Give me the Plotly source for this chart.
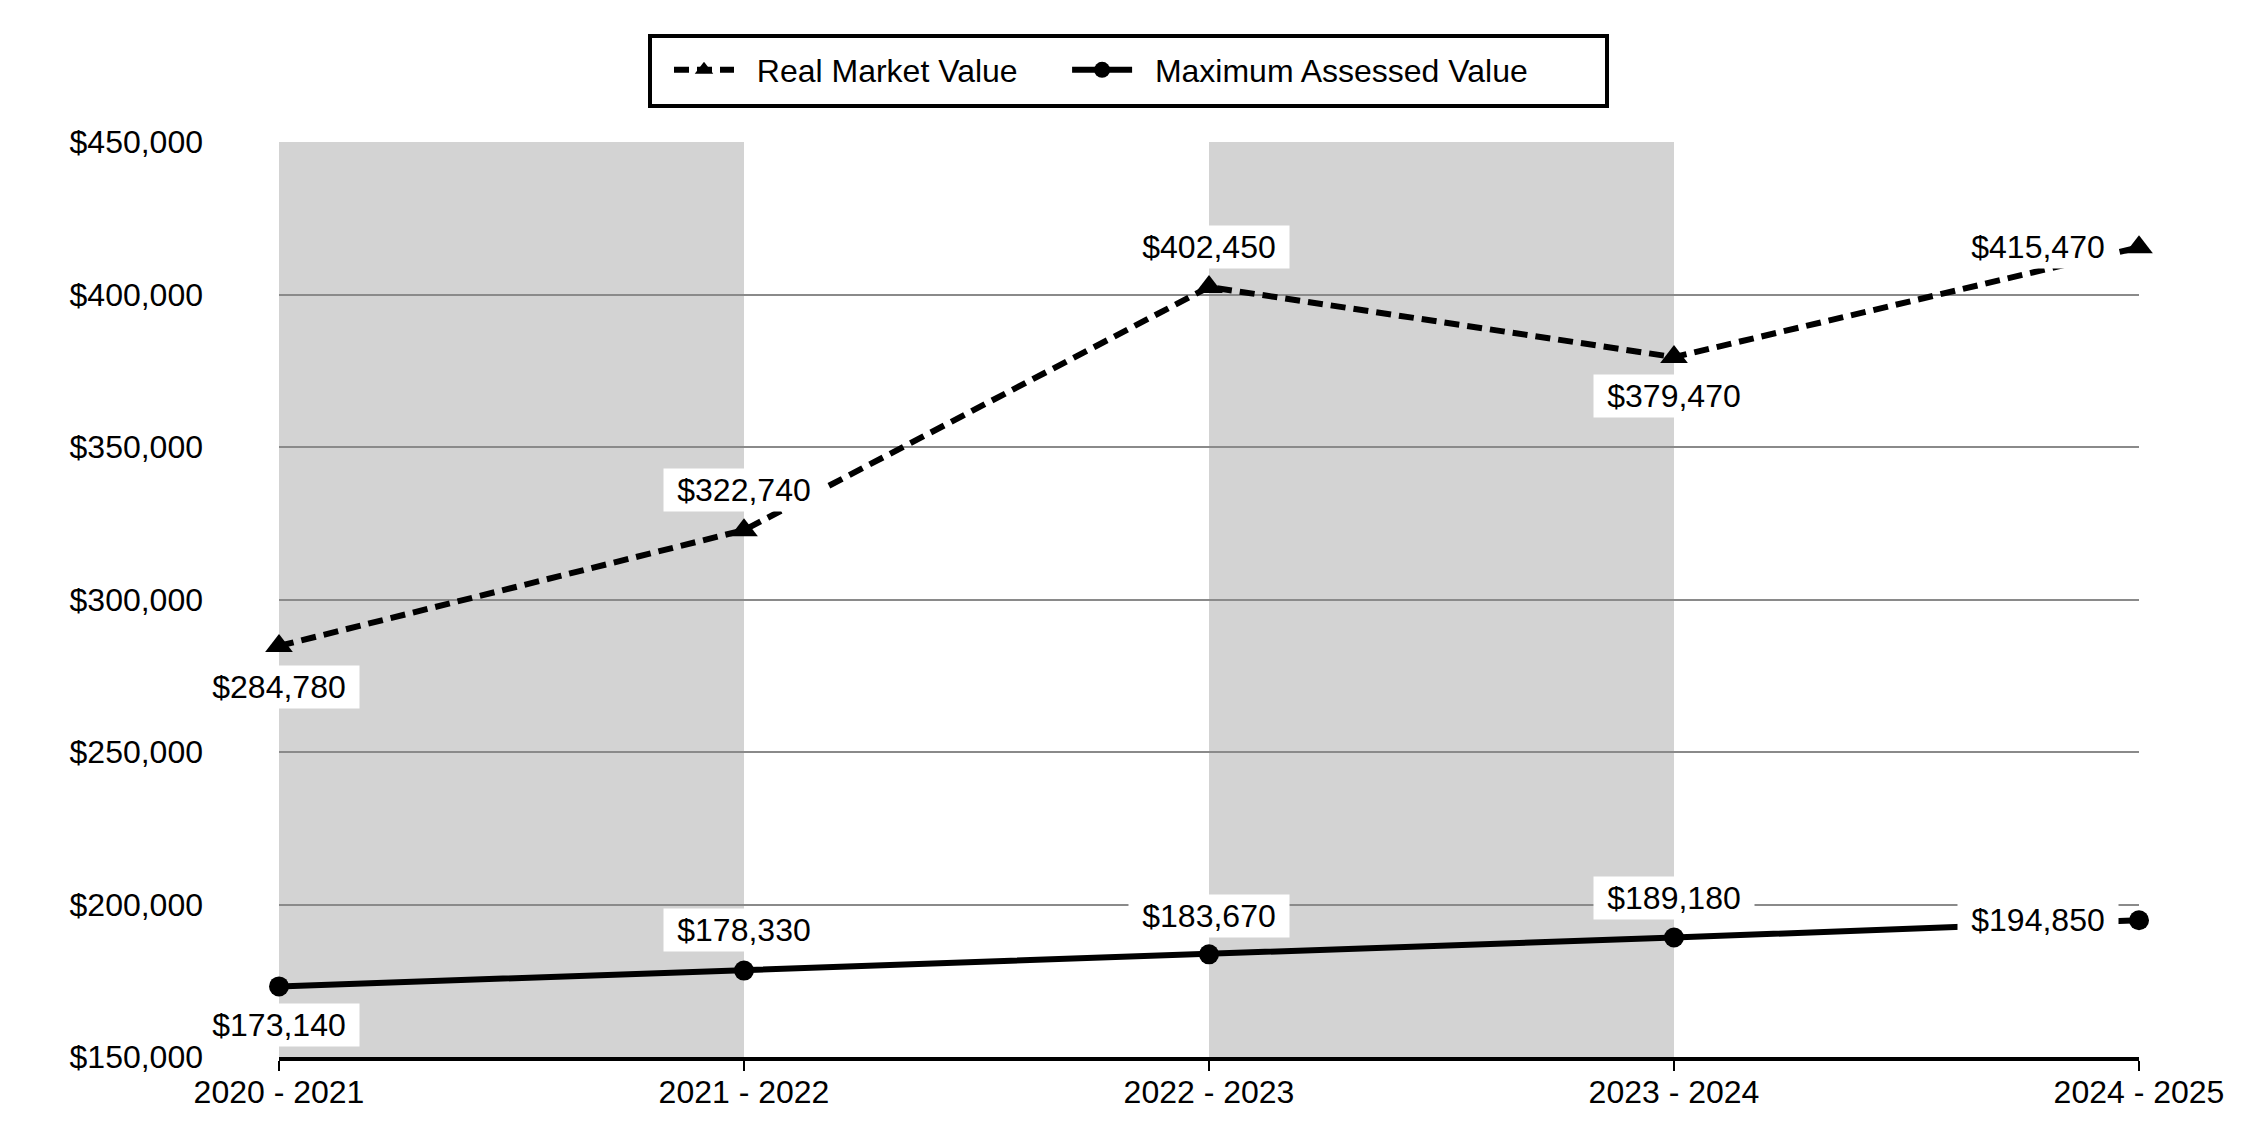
import plotly.graph_objects as go

categories = ["2020 - 2021", "2021 - 2022", "2022 - 2023", "2023 - 2024", "2024 - 2025"]
real_market_value = [284780, 322740, 402450, 379470, 415470]
max_assessed_value = [173140, 178330, 183670, 189180, 194850]
y_ticks = [150000, 200000, 250000, 300000, 350000, 400000, 450000]
series_names = ["Real Market Value", "Maximum Assessed Value"]

# label offsets in pixels (dx, dy; dy positive = up)
rmv_offsets = [(0, -41), (0, 40), (0, 40), (0, -39), (-101, 0)]
mav_offsets = [(0, -39), (0, 41), (0, 38), (0, 40), (-101, 0)]

FONT = "Arial, Liberation Sans, sans-serif"
OFF = 8                       # default page body margin
W, H = 2250 - 2 * OFF, 1140 - 2 * OFF
ML, MR, MT, MB = 279 - OFF, 2250 - 2139 - OFF, 142 - OFF, 1140 - 1057 - OFF
PW, PH = W - ML - MR, H - MT - MB
NB = "\u00a0"

def px_to_paper_x(px):
    return (px - OFF - ML) / PW

def px_to_paper_y(py):
    return (H - MB - (py - OFF)) / PH

fig = go.Figure()

fig.add_trace(go.Scatter(
    x=categories, y=real_market_value,
    name=NB * 2 + series_names[0] + NB * 5,
    mode="lines+markers", cliponaxis=False,
    line=dict(color="black", width=6, dash="15px,8px"),
    marker=dict(symbol="triangle-up", size=24, color="black"),
    hoverinfo="skip",
))
fig.add_trace(go.Scatter(
    x=categories, y=max_assessed_value,
    name=NB * 2 + series_names[1],
    mode="lines+markers", cliponaxis=False,
    line=dict(color="black", width=6),
    marker=dict(symbol="circle", size=20, color="black"),
    hoverinfo="skip",
))

# shaded bands between alternate category pairs
for i in range(0, len(categories) - 1, 2):
    fig.add_shape(type="rect", xref="x", yref="paper",
                  x0=i, x1=i + 1, y0=0, y1=1,
                  fillcolor="#D3D3D3", line=dict(width=0), layer="below")

# legend frame
fig.add_shape(type="rect", xref="paper", yref="paper",
              x0=px_to_paper_x(650), x1=px_to_paper_x(1607),
              y0=px_to_paper_y(106), y1=px_to_paper_y(36),
              line=dict(color="black", width=4), fillcolor="white", layer="above")

annotations = []
for series, offs in ((real_market_value, rmv_offsets), (max_assessed_value, mav_offsets)):
    for cat, v, (dx, dy) in zip(categories, series, offs):
        annotations.append(dict(
            x=cat, y=v, xref="x", yref="y", text=f"${v:,}",
            showarrow=False, xshift=dx, yshift=dy,
            font=dict(family=FONT, size=32, color="black"),
            bgcolor="white", width=160, height=42, borderpad=0,
        ))

fig.update_layout(
    width=W, height=H,
    margin=dict(l=ML, r=MR, t=MT, b=MB),
    paper_bgcolor="white", plot_bgcolor="white",
    font=dict(family=FONT, size=32, color="black"),
    showlegend=True,
    legend=dict(
        orientation="h", xref="container", yref="container",
        x=(669 - OFF) / W, xanchor="left",
        y=1 - (70 - OFF) / H, yanchor="middle",
        borderwidth=0, bgcolor="rgba(0,0,0,0)",
        font=dict(family=FONT, size=32, color="black"),
        itemwidth=60,
    ),
    annotations=annotations,
    xaxis=dict(
        type="category", range=[0, len(categories) - 1],
        showgrid=False, showline=True, linecolor="black", linewidth=4,
        ticks="outside", ticklen=10, tickwidth=2, tickcolor="black",
        ticklabelstandoff=-6,
        tickfont=dict(family=FONT, size=32, color="black"),
        zeroline=False,
    ),
    yaxis=dict(
        range=[y_ticks[0], y_ticks[-1]], tickvals=y_ticks,
        ticktext=[f"${v:,}" for v in y_ticks],
        showgrid=True, gridcolor="#8a8a8a", gridwidth=2,
        showline=False, zeroline=False, ticks="",
        ticklabelstandoff=75,
        tickfont=dict(family=FONT, size=32, color="black"),
    ),
)

fig.write_html("out.html")
